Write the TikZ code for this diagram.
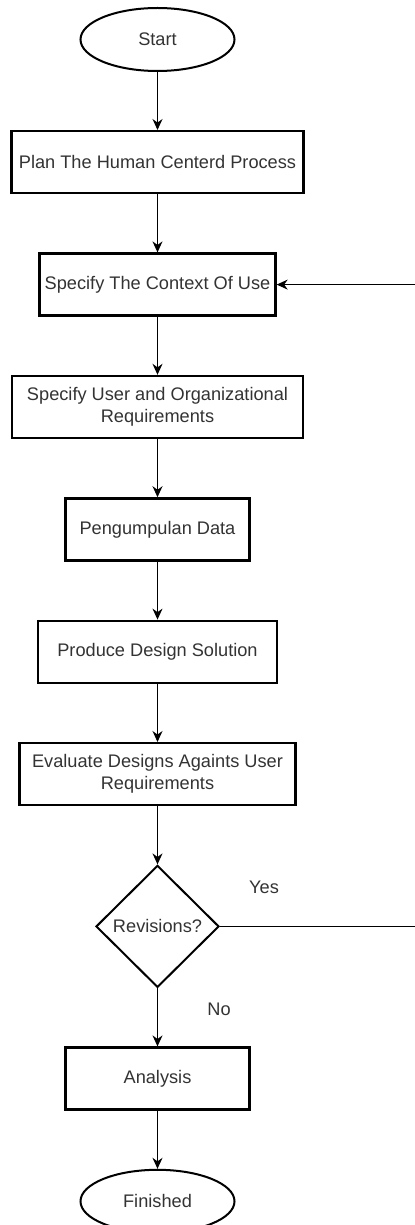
\documentclass[tikz,border=0pt]{standalone}
\usepackage{fontspec}
\setmainfont{Liberation Sans}
\usepackage{tikz}
\usetikzlibrary{positioning,shapes,arrows.meta,calc}
\definecolor{labelgray}{HTML}{333333}

\tikzset{
    process/.style={draw, rectangle, line width=1.2pt, minimum height=31pt, align=center, text=labelgray, inner sep=1pt},
    terminal/.style={draw, ellipse, line width=1pt, minimum width=77pt, minimum height=31.5pt, inner sep=0pt, text=labelgray},
    decision/.style={draw, diamond, line width=1pt, minimum width=61.5pt, minimum height=61pt, inner sep=0pt, text=labelgray},
    flow/.style={-{Stealth[length=5.5pt,width=5pt]}, line width=0.6pt}
}

\begin{document}
\begin{tikzpicture}[node distance=29pt, font=\fontsize{9.1}{11}\selectfont]
            \useasboundingbox (0,0) rectangle (207.5pt,-612.5pt);
            \coordinate (edge) at (207.5pt,0);

            \node[terminal] (start) at (78.75pt,-19.75pt) {Start};
            \node[process, minimum width=146pt, below=of start] (plan) {Plan The Human Centerd Process};
            \draw[flow] (start.south) -- (plan.north);
            \node[process, minimum width=118pt, below=of plan] (context) {Specify The Context Of Use};
            \draw[flow] (plan.south) -- (context.north);
            \node[process, minimum width=145.5pt, below=of context] (requirements) {Specify User and Organizational\\Requirements};
            \draw[flow] (context.south) -- (requirements.north);
            \node[process, minimum width=92pt, below=of requirements] (data) {Pengumpulan Data};
            \draw[flow] (requirements.south) -- (data.north);
            \node[process, minimum width=119.5pt, below=of data] (design) {Produce Design Solution};
            \draw[flow] (data.south) -- (design.north);
            \node[process, minimum width=138pt, below=of design] (evaluate) {Evaluate Designs Againts User\\Requirements};
            \draw[flow] (design.south) -- (evaluate.north);
            \node[decision, below=of evaluate] (revisions) {Revisions?};
            \draw[flow] (evaluate.south) -- (revisions.north);
            \node[process, minimum width=92pt, below=of revisions] (analysis) {Analysis};
            \draw[flow] (revisions.south) -- (analysis.north);
            \node[terminal, below=of analysis] (finished) {Finished};
            \draw[flow] (analysis.south) -- (finished.north);

            % loop back to the context of use
            \coordinate (yes-end) at (revisions.east -| edge);
            \coordinate (loop-end) at (context.east -| edge);
            \draw[line width=0.6pt] (revisions.east) -- (yes-end);
            \draw[flow] (loop-end) -- (context.east);
            \node[text=labelgray, above right=19.5pt and 22pt of revisions.east, anchor=center] (yes) {Yes};
            \node[text=labelgray, below right=41.5pt and 30.75pt of revisions.center, anchor=center] (no) {No};
        \end{tikzpicture}
\end{document}
